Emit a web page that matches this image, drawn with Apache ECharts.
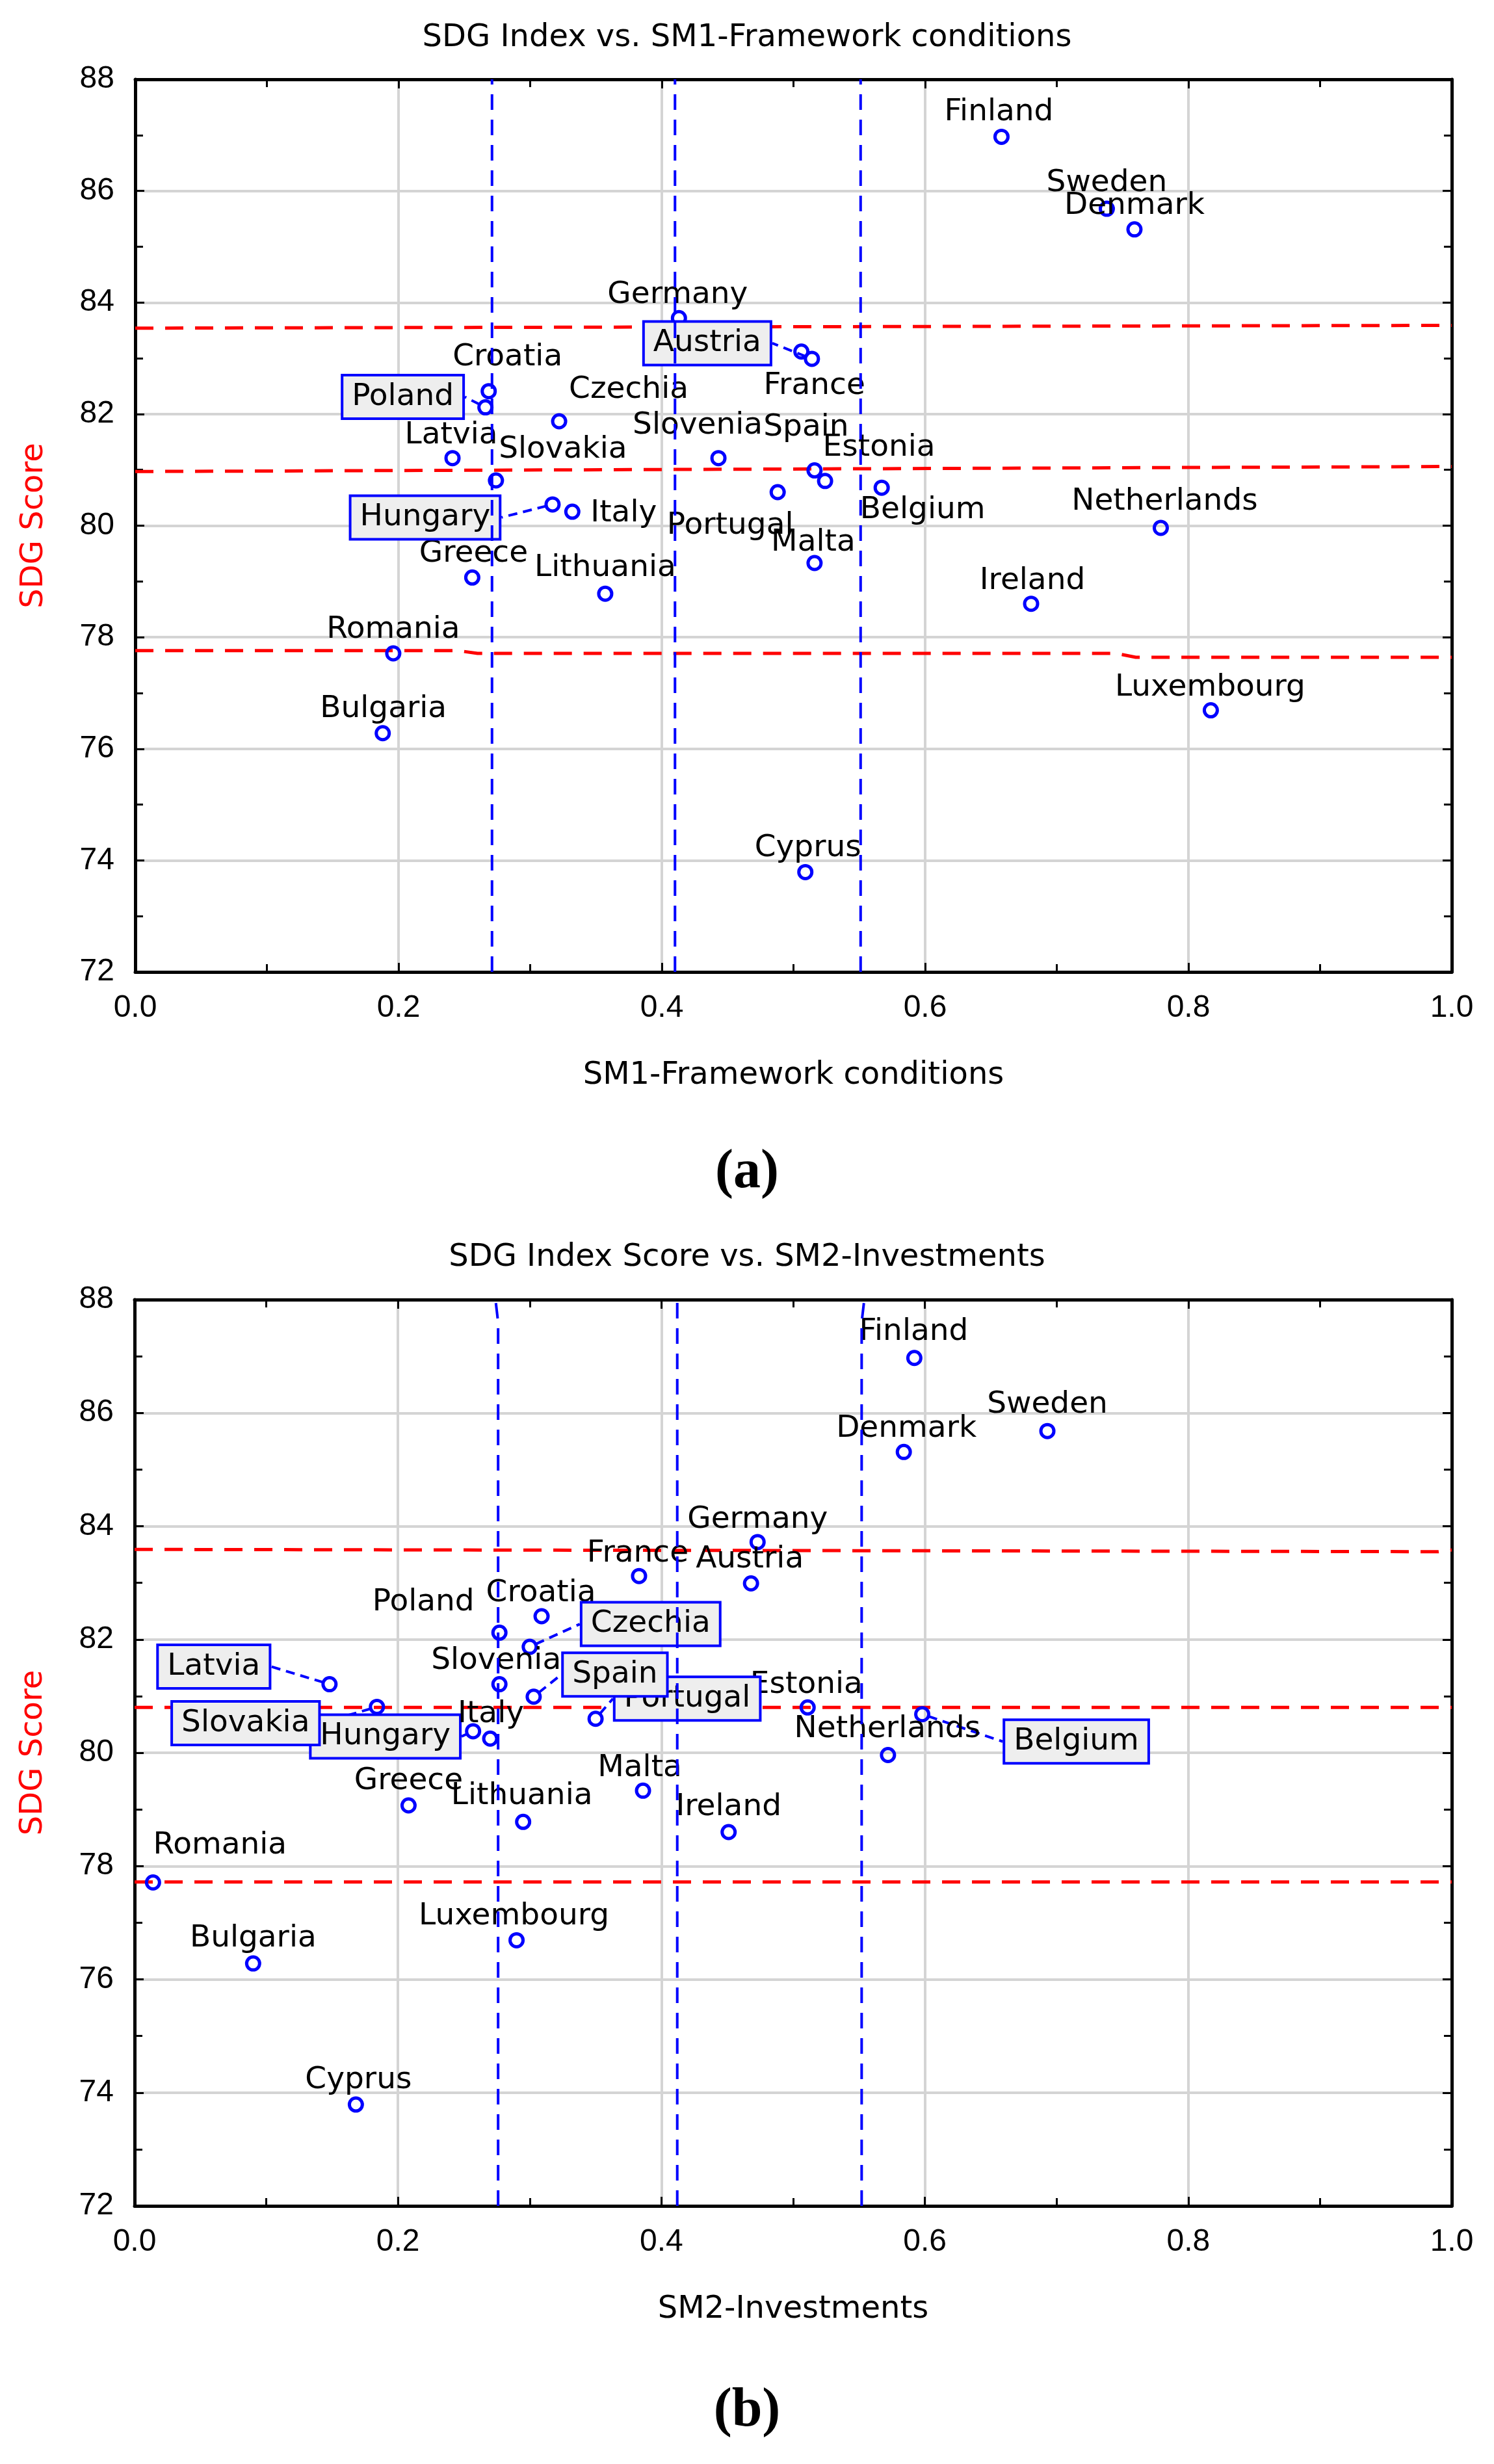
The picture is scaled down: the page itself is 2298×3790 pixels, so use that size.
<!DOCTYPE html>
<html><head><meta charset="utf-8">
<script src="https://cdn.jsdelivr.net/npm/echarts@6.0.0/dist/echarts.min.js"></script>
<style>html,body{margin:0;padding:0;background:#fff}#c{width:2298px;height:3790px}</style>
</head><body><div id="c"></div>
<script>
// ---------------- DATA ----------------
const countries = ['Austria','Belgium','Bulgaria','Croatia','Cyprus','Czechia','Denmark','Estonia','Finland','France','Germany','Greece','Hungary','Ireland','Italy','Latvia','Lithuania','Luxembourg','Malta','Netherlands','Poland','Portugal','Romania','Slovakia','Slovenia','Spain','Sweden'];
const sdgScore = [82.99,80.68,76.28,82.41,73.79,81.87,85.31,80.80,86.97,83.12,83.72,79.07,80.38,78.60,80.25,81.21,78.78,76.69,79.33,79.96,82.12,80.60,77.71,80.81,81.21,80.99,85.68];
const sm1Framework = [0.514,0.567,0.188,0.2685,0.509,0.322,0.759,0.524,0.658,0.506,0.413,0.256,0.317,0.6805,0.332,0.241,0.357,0.817,0.516,0.779,0.266,0.488,0.196,0.274,0.443,0.516,0.738];
const sm2Investments = [0.468,0.598,0.090,0.309,0.168,0.300,0.584,0.511,0.592,0.383,0.473,0.208,0.257,0.451,0.270,0.148,0.295,0.290,0.386,0.572,0.277,0.350,0.014,0.184,0.277,0.303,0.693];

const xTickValues = [0.0,0.2,0.4,0.6,0.8,1.0];
const yTickValues = [72,74,76,78,80,82,84,86,88];

// cut-off lines (vertical: SM value; horizontal: SDG score)
const sm1VerticalCuts = [
  [[0.271,72],[0.271,88]],
  [[0.410,72],[0.410,88]],
  [[0.551,72],[0.551,88]]
];
const sm1HorizontalCuts = [
  [[0,83.54],[1,83.59]],
  [[0,80.97],[1,81.06]],
  [[0,77.76],[0.245,77.76],[0.26,77.71],[0.745,77.71],[0.76,77.64],[1,77.64]]
];
const sm2VerticalCuts = [
  [[0.276,72],[0.276,87.6],[0.274,88]],
  [[0.412,72],[0.412,88]],
  [[0.552,72],[0.552,87.6],[0.554,88]]
];
const sm2HorizontalCuts = [
  [[0,83.59],[0.99,83.55],[1,83.58]],
  [[0,80.80],[1,80.80]],
  [[0,77.72],[1,77.72]]
];

const titleA = 'SDG Index vs. SM1-Framework conditions';
const titleB = 'SDG Index Score vs. SM2-Investments';
const xNameA = 'SM1-Framework conditions';
const xNameB = 'SM2-Investments';
const yName = 'SDG Score';

// ---------------- LAYOUT / STYLE ----------------
const DEFAULT_OFF = [0,-37];
const labelOffA = {
  Finland:[-4,-38], Sweden:[0,-39], Denmark:[0,-36], Germany:[-2,-35],
  Austria:[-161,-24], France:[20,53], Croatia:[29,-52], Poland:[-127,-16],
  Czechia:[107,-48], Latvia:[-2,-35], Slovenia:[-32,-50], Spain:[-13,-66],
  Estonia:[83,-51], Slovakia:[103,-47], Belgium:[63,35], Netherlands:[6,-40],
  Hungary:[-196,20], Italy:[79,3], Portugal:[-73,52], Malta:[-2,-31],
  Greece:[2,-37], Lithuania:[0,-39], Ireland:[2,-35], Romania:[0,-36],
  Bulgaria:[1,-37], Luxembourg:[-1,-35], Cyprus:[4,-37]
};
const labelOffB = {
  Finland:[-1,-40], Sweden:[0,-40], Denmark:[4,-36], Germany:[0,-34],
  France:[-2,-34], Austria:[-2,-37], Croatia:[-1,-35], Poland:[-117,-46],
  Czechia:[186,-35], Latvia:[-178,-27], Slovenia:[-5,-36], Spain:[125,-34],
  Estonia:[-2,-35], Portugal:[141,-31], Slovakia:[-202,25], Hungary:[-135,8],
  Italy:[1,-37], Belgium:[237,42], Netherlands:[-1,-40], Greece:[0,-37],
  Lithuania:[-2,-39], Malta:[-5,-35], Ireland:[0,-38], Romania:[103,-57],
  Bulgaria:[0,-38], Luxembourg:[-4,-37], Cyprus:[4,-37]
};
const boxedA = ['Austria','Poland','Hungary'];
const boxedB = ['Czechia','Latvia','Spain','Portugal','Slovakia','Hungary','Belgium'];

const grids = [
  {left:208, top:122, width:2025, height:1373},
  {left:207, top:1999, width:2026, height:1394}
];

const BLUE = '#0000ff', RED = '#ff0000';
const LABEL_FONT = 'DejaVu Sans';
const TICK_FONT = 'Liberation Sans';

function xAxes(gi, name) {
  const base = {
    type:'value', gridIndex:gi, min:xTickValues[0], max:xTickValues[xTickValues.length-1],
    interval:xTickValues[1]-xTickValues[0],
    axisLine:{show:true, onZero:false, lineStyle:{color:'#000', width:5}},
    axisTick:{show:true, inside:true, length:14, lineStyle:{color:'#000', width:3}},
    minorTick:{show:true, splitNumber:2, length:12, lineStyle:{color:'#000', width:3}},
    minorSplitLine:{show:false}
  };
  return [
    Object.assign({}, base, {
      position:'bottom', name:name, nameLocation:'middle', nameGap:136,
      nameTextStyle:{fontFamily:LABEL_FONT, fontSize:48, color:'#000'},
      axisLabel:{show:true, margin:32, fontFamily:TICK_FONT, fontSize:48, color:'#000',
        formatter:v => v.toFixed(1)},
      splitLine:{show:true, lineStyle:{color:'#d4d4d4', width:4}}
    }),
    Object.assign({}, base, {position:'top', axisLabel:{show:false}, splitLine:{show:false}})
  ];
}
function yAxes(gi) {
  const base = {
    type:'value', gridIndex:gi, min:yTickValues[0], max:yTickValues[yTickValues.length-1],
    interval:yTickValues[1]-yTickValues[0],
    axisLine:{show:true, onZero:false, lineStyle:{color:'#000', width:5}},
    axisTick:{show:true, inside:true, length:14, lineStyle:{color:'#000', width:3}},
    minorTick:{show:true, splitNumber:2, length:12, lineStyle:{color:'#000', width:3}},
    minorSplitLine:{show:false}
  };
  return [
    Object.assign({}, base, {
      position:'left', name:yName, nameLocation:'middle', nameGap:131,
      nameTextStyle:{fontFamily:LABEL_FONT, fontSize:48, color:RED},
      axisLabel:{show:true, margin:32, fontFamily:TICK_FONT, fontSize:48, color:'#000'},
      splitLine:{show:true, lineStyle:{color:'#d4d4d4', width:4}}
    }),
    Object.assign({}, base, {position:'right', axisLabel:{show:false}, splitLine:{show:false}})
  ];
}

function lineSeries(pts, axisIdx, color, width, dash, z) {
  return {
    type:'line', xAxisIndex:axisIdx, yAxisIndex:axisIdx, data:pts, symbol:'none',
    silent:true, z:z, animation:false,
    lineStyle:{color:color, width:width, type:dash}
  };
}

function scatterSeries(xs, axisIdx, offs, boxed) {
  const data = countries.map((c, i) => {
    const item = {name:c, value:[xs[i], sdgScore[i]]};
    if (boxed.indexOf(c) >= 0) {
      item.label = {backgroundColor:'#eeeeee', borderColor:BLUE, borderWidth:4, padding:[8,13]};
      item.labelLine = {show:true, lineStyle:{color:BLUE, width:4, type:[14,9]}};
    }
    return item;
  });
  return {
    type:'scatter', xAxisIndex:axisIdx, yAxisIndex:axisIdx, data:data,
    symbol:'circle', symbolSize:20, z:3, animation:false,
    itemStyle:{color:'rgba(255,255,255,0)', borderColor:BLUE, borderWidth:5, opacity:1},
    emphasis:{disabled:true},
    label:{show:true, position:'inside', formatter:'{b}', color:'#000',
      fontFamily:LABEL_FONT, fontSize:47},
    labelLine:{show:false},
    labelLayout: p => {
      const o = offs[countries[p.dataIndex]] || DEFAULT_OFF;
      return {dx:o[0], dy:o[1]};
    }
  };
}

const xa = xAxes(0, xNameA), xb = xAxes(1, xNameB);
const ya = yAxes(0), yb = yAxes(1);

const series = [];
sm1HorizontalCuts.forEach(p => series.push(lineSeries(p, 0, RED, 5, [28,18], 2)));
sm2HorizontalCuts.forEach(p => series.push(lineSeries(p, 2, RED, 5, [28,18], 2)));
series.push(scatterSeries(sm1Framework, 0, labelOffA, boxedA));
series.push(scatterSeries(sm2Investments, 2, labelOffB, boxedB));
sm1VerticalCuts.forEach(p => series.push(lineSeries(p, 0, BLUE, 4, [24,15], 5)));
sm2VerticalCuts.forEach(p => series.push(lineSeries(p, 2, BLUE, 4, [24,15], 5)));

const chart = echarts.init(document.getElementById('c'), null, {renderer:'canvas'});
chart.setOption({
  backgroundColor:'#ffffff',
  animation:false,
  title:[
    {text:titleA, left:'center', top:35, padding:0,
      textStyle:{fontFamily:LABEL_FONT, fontSize:48, fontWeight:'normal', color:'#000'}},
    {text:titleB, left:'center', top:1911, padding:0,
      textStyle:{fontFamily:LABEL_FONT, fontSize:48, fontWeight:'normal', color:'#000'}},
    {text:'(a)', left:'center', top:1762, padding:0,
      textStyle:{fontFamily:'Liberation Serif', fontSize:84, fontWeight:'bold', color:'#000'}},
    {text:'(b)', left:'center', top:3667, padding:0,
      textStyle:{fontFamily:'Liberation Serif', fontSize:84, fontWeight:'bold', color:'#000'}}
  ],
  grid:grids.map(g => Object.assign({containLabel:false, outerBoundsMode:'none'}, g)),
  xAxis:[xa[0], xa[1], xb[0], xb[1]],
  yAxis:[ya[0], ya[1], yb[0], yb[1]],
  series:series
});
</script>
</body></html>
